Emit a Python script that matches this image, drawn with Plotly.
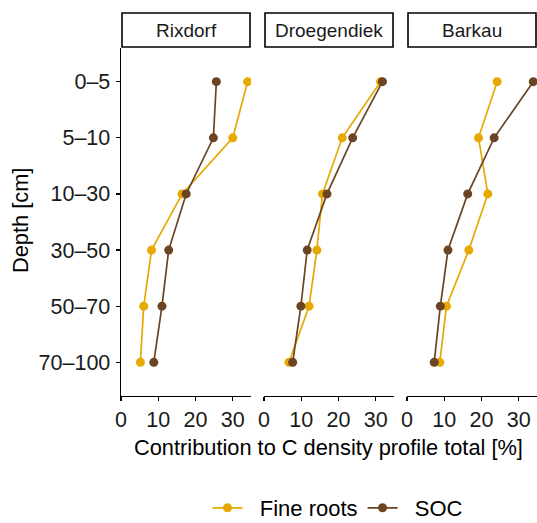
import plotly.graph_objects as go

sites = ["Rixdorf", "Droegendiek", "Barkau"]
depths = ["0–5", "5–10", "10–30", "30–50", "50–70", "70–100"]
series_names = ["Fine roots", "SOC"]

fine_roots = {
    "Rixdorf": [34.0, 30.0, 16.4, 8.2, 6.1, 5.2],
    "Droegendiek": [31.3, 21.0, 15.7, 14.2, 12.1, 6.7],
    "Barkau": [24.2, 19.2, 21.7, 16.6, 10.6, 8.8],
}
soc = {
    "Rixdorf": [25.6, 24.8, 17.5, 12.8, 11.0, 8.8],
    "Droegendiek": [31.8, 23.8, 16.9, 11.6, 9.9, 7.7],
    "Barkau": [33.9, 23.4, 16.3, 11.0, 8.95, 7.3],
}
x_ticks = [0, 10, 20, 30]

colors = {"Fine roots": "#E6A902", "SOC": "#6B4423"}
W, H = 537, 523
panels_px = [(121, 251), (264, 394), (407, 537)]
top_px, bot_px = 48, 396
strip_top = 13

FONT = "Liberation Sans, Arial, sans-serif"


def px_x(p):
    return p / W


def px_y(p):
    return 1 - p / H


fig = go.Figure()
layout_axes = {}
for i, site in enumerate(sites):
    xa = "x" if i == 0 else f"x{i+1}"
    ya = "y" if i == 0 else f"y{i+1}"
    for name, data in zip(series_names, (fine_roots, soc)):
        fig.add_trace(go.Scatter(
            x=data[site], y=depths, mode="lines+markers",
            name="  " + name,
            line=dict(color=colors[name], width=1.7),
            marker=dict(color=colors[name], size=9),
            xaxis=xa, yaxis=ya, showlegend=(i == 0), legendgroup=name,
        ))
    l, r = panels_px[i]
    key_x = "xaxis" if i == 0 else f"xaxis{i+1}"
    key_y = "yaxis" if i == 0 else f"yaxis{i+1}"
    layout_axes[key_x] = dict(
        domain=[px_x(l), px_x(r)], range=[0, 34.9], tickvals=x_ticks,
        showgrid=False, zeroline=False, showline=True, linecolor="black",
        linewidth=1.4, ticks="outside", ticklen=4, tickcolor="black",
        tickwidth=1.2, tickfont=dict(size=21.5, color="#1a1a1a", family=FONT),
        anchor=ya, fixedrange=True, automargin=False,
    )
    layout_axes[key_y] = dict(
        domain=[px_y(bot_px), px_y(top_px)], type="category",
        categoryorder="array", categoryarray=depths, range=[5.6, -0.6],
        showgrid=False, zeroline=False, anchor=xa,
        showline=(i == 0), linecolor="black", linewidth=1.4,
        ticks="outside" if i == 0 else "", ticklen=4, tickcolor="black",
        tickwidth=1.2, showticklabels=(i == 0), ticklabelstandoff=1,
        tickfont=dict(size=21.5, color="#1a1a1a", family=FONT),
        fixedrange=True, automargin=False,
    )
    if i > 0:
        layout_axes[key_y]["matches"] = "y"
    fig.add_shape(type="rect", xref="paper", yref="paper",
                  x0=px_x(l + 1), x1=px_x(r - 1),
                  y0=px_y(top_px) + 0.002, y1=px_y(strip_top),
                  line=dict(color="black", width=1.6), fillcolor="white")
    fig.add_annotation(text=site, xref="paper", yref="paper",
                       x=px_x((l + r) / 2), y=px_y((strip_top + top_px) / 2),
                       showarrow=False, xanchor="center", yanchor="middle",
                       font=dict(size=19, color="#1a1a1a", family=FONT))

fig.add_annotation(text="Contribution to C density profile total [%]",
                   xref="paper", yref="paper", x=px_x(328), y=px_y(447),
                   showarrow=False, xanchor="center", yanchor="middle",
                   font=dict(size=21.8, color="black", family=FONT))
fig.add_annotation(text="Depth [cm]", xref="paper", yref="paper",
                   x=px_x(20), y=px_y(221), textangle=-90,
                   showarrow=False, xanchor="center", yanchor="middle",
                   font=dict(size=21.8, color="black", family=FONT))

fig.update_layout(
    width=W, height=H,
    margin=dict(l=0, r=0, t=0, b=0, pad=0, autoexpand=False),
    paper_bgcolor="white", plot_bgcolor="white",
    legend=dict(orientation="h", x=px_x(338), xanchor="center",
                y=px_y(508), yanchor="middle",
                font=dict(size=22, color="black", family=FONT),
                itemwidth=30, tracegroupgap=0),
    **layout_axes,
)
fig.write_html(
    "out.html",
    config={"displayModeBar": False, "staticPlot": True},
    post_script=(
        "var b=document.body.style;b.margin='0';b.padding='0';"
        "b.width='537px';b.height='523px';b.overflow='hidden';"
        "var h=document.documentElement.style;h.margin='0';"
        "h.width='537px';h.height='523px';h.overflow='hidden';"
    ),
)
